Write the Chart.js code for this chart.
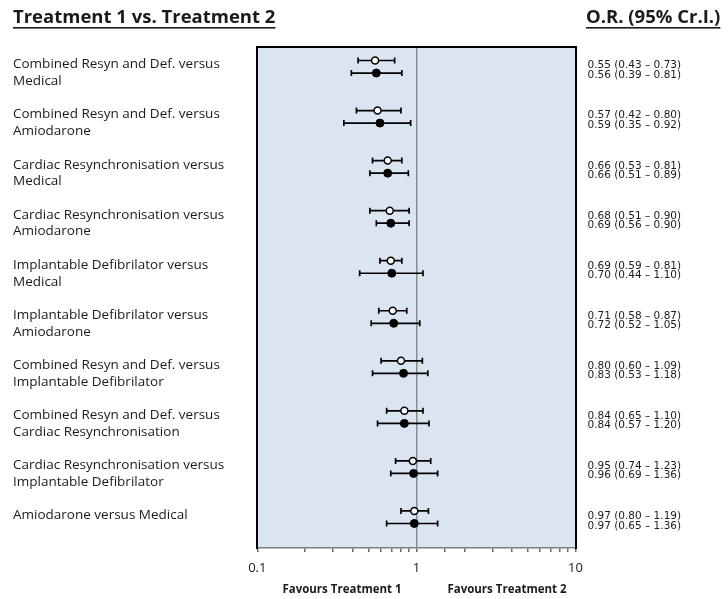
<!DOCTYPE html>
<html>
<head>
<meta charset="utf-8">
<script src="https://cdn.jsdelivr.net/npm/chart.js@4.4.1/dist/chart.umd.min.js"></script>
<style>
  html, body { margin: 0; padding: 0; background: #fff; }
  #caixa { width: 728px; height: 599px; }
</style>
</head>
<body>
<div id="caixa"><canvas id="graficoOR"></canvas></div>
<script>
// comparisons, top to bottom
const comparacoes = [
  ['Combined Resyn and Def. versus', 'Medical'],
  ['Combined Resyn and Def. versus', 'Amiodarone'],
  ['Cardiac Resynchronisation versus', 'Medical'],
  ['Cardiac Resynchronisation versus', 'Amiodarone'],
  ['Implantable Defibrilator versus', 'Medical'],
  ['Implantable Defibrilator versus', 'Amiodarone'],
  ['Combined Resyn and Def. versus', 'Implantable Defibrilator'],
  ['Combined Resyn and Def. versus', 'Cardiac Resynchronisation'],
  ['Cardiac Resynchronisation versus', 'Implantable Defibrilator'],
  ['Amiodarone versus Medical', '']
];

// open circles
const orAberto  = [0.55, 0.57, 0.66, 0.68, 0.69, 0.71, 0.80, 0.84, 0.95, 0.97];
const infAberto = [0.43, 0.42, 0.53, 0.51, 0.59, 0.58, 0.60, 0.65, 0.74, 0.80];
const supAberto = [0.73, 0.80, 0.81, 0.90, 0.81, 0.87, 1.09, 1.10, 1.23, 1.19];

// filled circles
const orCheio  = [0.56, 0.59, 0.66, 0.69, 0.70, 0.72, 0.83, 0.84, 0.96, 0.97];
const infCheio = [0.39, 0.35, 0.51, 0.56, 0.44, 0.52, 0.53, 0.57, 0.69, 0.65];
const supCheio = [0.81, 0.92, 0.89, 0.90, 1.10, 1.05, 1.18, 1.20, 1.36, 1.36];

const ticksX = [0.1, 1, 10];

const FONTE = '"Open Sans", Lato, sans-serif';
const FONTE_LARGA = '"DejaVu Sans", Verdana, sans-serif';
const DESLOC = 0.25; // filled point sits a bit below the open one
const DESLOC_OR = 0.2;

function textoOR(v, a, b) {
  return v.toFixed(2) + ' (' + a.toFixed(2) + ' \u2013 ' + b.toFixed(2) + ')';
}

function pontos(valores, inf, sup, extra) {
  return valores.map((v, i) => ({ x: v, y: i + extra, lo: inf[i], hi: sup[i] }));
}

// horizontal credible-interval bars with caps
const barrasErro = {
  id: 'barrasErro',
  beforeDatasetsDraw(chart) {
    const ctx = chart.ctx;
    const sx = chart.scales.x, sy = chart.scales.y;
    ctx.save();
    ctx.strokeStyle = '#000';
    ctx.lineWidth = 1.7;
    chart.data.datasets.forEach((ds) => {
      ds.data.forEach((p) => {
        const y = sy.getPixelForValue(p.y);
        const x1 = sx.getPixelForValue(p.lo);
        const x2 = sx.getPixelForValue(p.hi);
        ctx.beginPath();
        ctx.moveTo(x1, y); ctx.lineTo(x2, y);
        ctx.moveTo(x1, y - 3); ctx.lineTo(x1, y + 3);
        ctx.moveTo(x2, y - 3); ctx.lineTo(x2, y + 3);
        ctx.stroke();
      });
    });
    ctx.restore();
  }
};

// background, top edge, headers and footer texts
const moldura = {
  id: 'moldura',
  beforeDraw(chart) {
    const a = chart.chartArea, ctx = chart.ctx;
    ctx.save();
    ctx.fillStyle = '#dbe5f1';
    ctx.fillRect(a.left, a.top, a.right - a.left, a.bottom - a.top);
    ctx.restore();
  },
  afterDraw(chart) {
    const a = chart.chartArea, ctx = chart.ctx;
    ctx.save();
    ctx.strokeStyle = '#000';
    ctx.lineWidth = 2;
    ctx.beginPath();
    ctx.moveTo(a.left - 1, a.top); ctx.lineTo(a.right + 1, a.top);
    ctx.stroke();

    ctx.fillStyle = '#1a1a1a';
    ctx.textBaseline = 'middle';
    ctx.textAlign = 'left';
    ctx.font = 'bold 18.5px ' + FONTE;
    const cab = [['Treatment 1 vs. Treatment 2', 13], ['O.R. (95% Cr.I.)', 586]];
    cab.forEach(([t, x]) => {
      ctx.fillText(t, x, 18);
      const w = ctx.measureText(t).width;
      ctx.fillRect(x, 27, w, 1.6);
    });

    ctx.font = 'bold 11.5px ' + FONTE;
    ctx.textAlign = 'center';
    ctx.fillText('Favours Treatment 1', 342, 590);
    ctx.fillText('Favours Treatment 2', 507, 590);
    ctx.restore();
  }
};

const dadosAberto = pontos(orAberto, infAberto, supAberto, 0);
const dadosCheio = pontos(orCheio, infCheio, supCheio, DESLOC);

const yMin = -0.27, yMax = 9.74;

new Chart(document.getElementById('graficoOR'), {
  type: 'scatter',
  data: {
    datasets: [{
      label: 'Treatment comparison (a)',
      data: dadosAberto,
      pointStyle: 'circle',
      pointRadius: 3.5,
      pointBorderWidth: 1.5,
      pointBackgroundColor: '#fff',
      pointBorderColor: '#000'
    }, {
      label: 'Treatment comparison (b)',
      data: dadosCheio,
      pointStyle: 'circle',
      pointRadius: 4,
      pointBorderWidth: 1,
      pointBackgroundColor: '#000',
      pointBorderColor: '#000'
    }]
  },
  options: {
    responsive: true,
    maintainAspectRatio: false,
    animation: false,
    layout: { padding: { left: 13, top: 47, right: 0, bottom: 0 } },
    plugins: { legend: { display: false }, tooltip: { enabled: false } },
    scales: {
      x: {
        type: 'logarithmic',
        min: 0.1,
        max: 10,
        afterFit: (s) => { s.height = 51; },
        border: { color: '#7f7f7f', width: 1.5 },
        grid: {
          drawOnChartArea: true,
          color: (c) => (c.tick && Math.abs(c.tick.value - 1) < 1e-9 ? '#8c8c8c' : 'rgba(0,0,0,0)'),
          lineWidth: 1.5,
          tickColor: '#666',
          tickLength: 4
        },
        ticks: {
          autoSkip: false,
          maxRotation: 0,
          padding: 8,
          color: '#1a1a1a',
          font: { family: FONTE, size: 13 },
          callback: (v) => {
            const t = ticksX.find((k) => Math.abs(k - v) < 1e-9);
            return t === undefined ? '' : String(t);
          }
        }
      },
      y: {
        type: 'linear',
        position: 'left',
        reverse: true,
        min: yMin,
        max: yMax,
        afterFit: (s) => { s.width = 244.3; },
        afterBuildTicks: (s) => { s.ticks = comparacoes.map((c, i) => ({ value: i + DESLOC })); },
        border: { color: '#000', width: 2 },
        grid: { display: false, drawTicks: false },
        ticks: {
          autoSkip: false,
          crossAlign: 'far',
          color: '#1a1a1a',
          font: { family: FONTE, size: 13.5, lineHeight: 1.25 },
          callback: (v) => comparacoes[Math.round(v - DESLOC)]
        }
      },
      y2: {
        type: 'linear',
        position: 'right',
        reverse: true,
        min: yMin,
        max: yMax,
        afterFit: (s) => { s.width = 152.5; },
        afterBuildTicks: (s) => { s.ticks = comparacoes.map((c, i) => ({ value: i + DESLOC_OR })); },
        border: { color: '#000', width: 2 },
        grid: { display: false, drawTicks: false },
        ticks: {
          autoSkip: false,
          padding: 12,
          color: '#1a1a1a',
          font: { family: FONTE_LARGA, size: 10.5, lineHeight: 0.92 },
          callback: (v) => {
            const i = Math.round(v - DESLOC_OR);
            return [textoOR(orAberto[i], infAberto[i], supAberto[i]),
                    textoOR(orCheio[i], infCheio[i], supCheio[i])];
          }
        }
      }
    }
  },
  plugins: [moldura, barrasErro]
});
</script>
</body>
</html>
